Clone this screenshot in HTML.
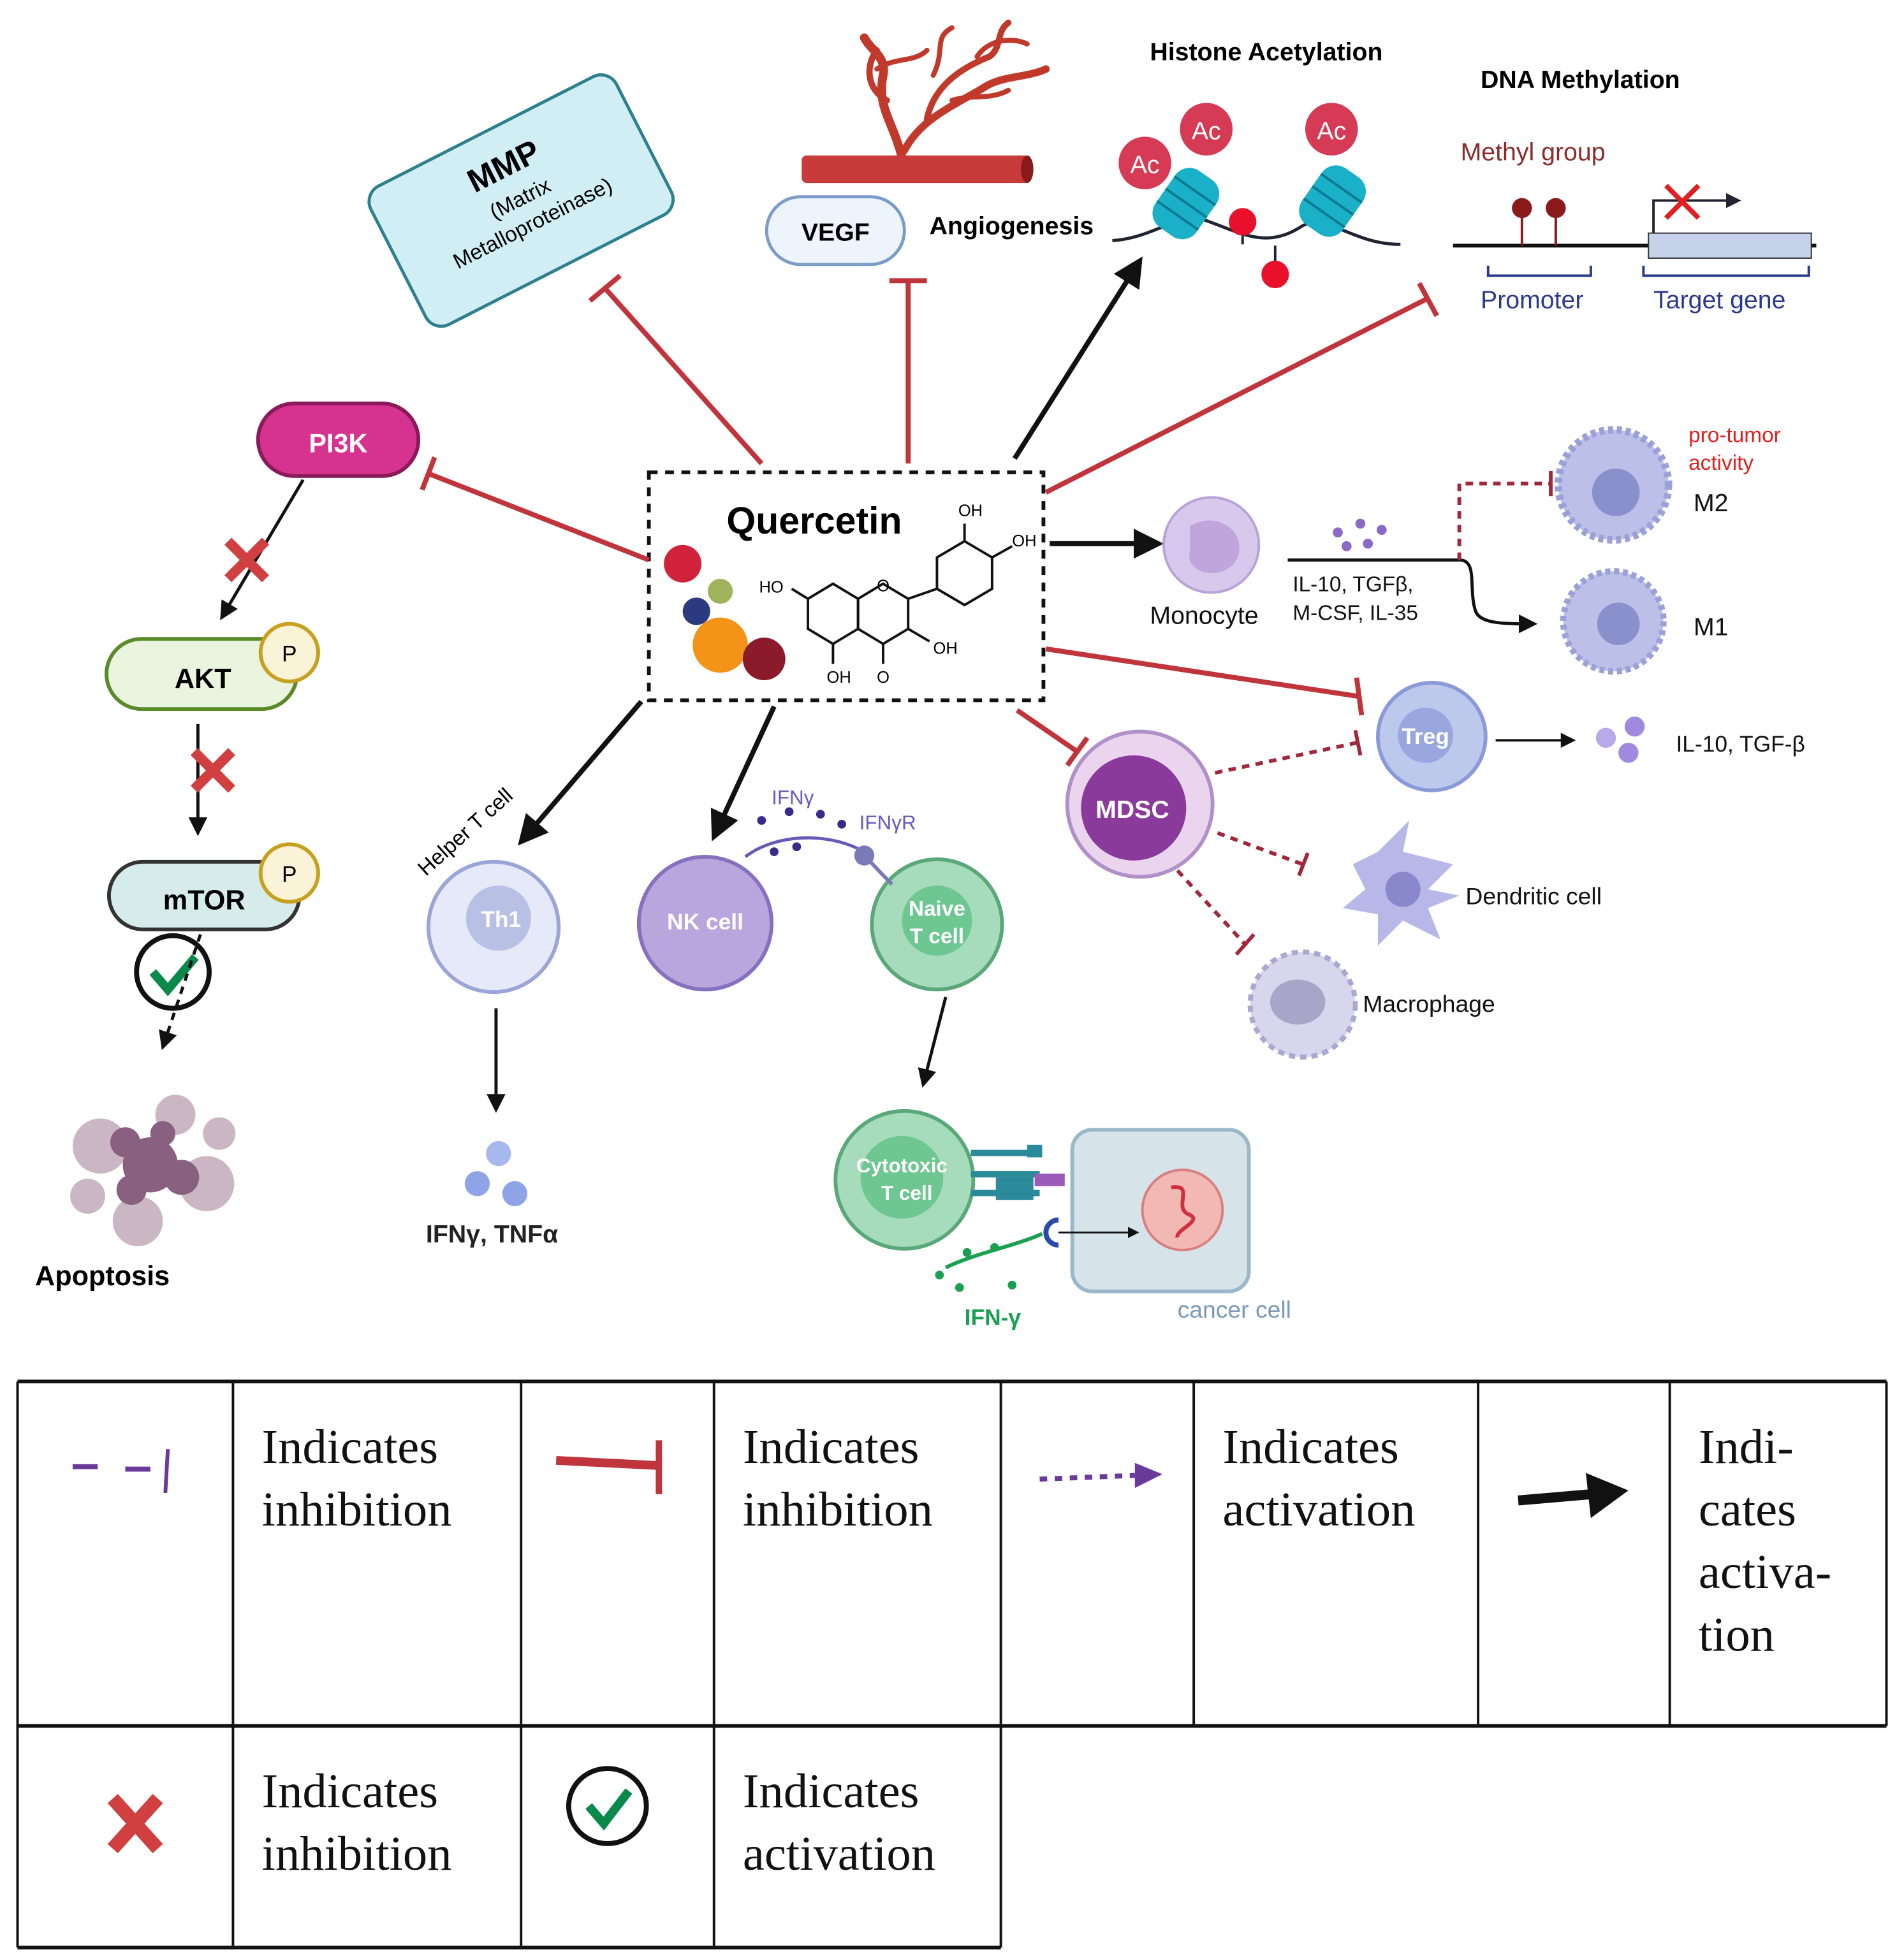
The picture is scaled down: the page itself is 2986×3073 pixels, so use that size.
<!DOCTYPE html>
<html><head><meta charset="utf-8"><style>
html,body{margin:0;padding:0;background:#fff}
svg{display:block}
.s{font-family:"Liberation Sans",sans-serif}
.r{font-family:"Liberation Serif",serif}
</style></head><body>
<svg width="2986" height="3073" viewBox="0 0 1520 1564" xmlns="http://www.w3.org/2000/svg">
<defs>
<marker id="ab" markerWidth="6" markerHeight="6" refX="5" refY="3" orient="auto" markerUnits="strokeWidth"><path d="M0,0 L6,3 L0,6 z" fill="#111"/></marker>
<marker id="as" markerWidth="6" markerHeight="6" refX="5" refY="3" orient="auto" markerUnits="strokeWidth"><path d="M0,0 L6,3 L0,6 z" fill="#111"/></marker>
</defs>
<rect width="1520" height="1564" fill="#fff"/>

<!-- MMP box -->
<g transform="translate(416,160) rotate(-27)">
<rect x="-110" y="-62" width="220" height="124" rx="14" fill="#d2eef5" stroke="#2e7f8f" stroke-width="2.5"/>
<text x="0" y="-22" class="s" font-size="26" font-weight="bold" text-anchor="middle">MMP</text>
<text x="0" y="4" class="s" font-size="17" text-anchor="middle">(Matrix</text>
<text x="0" y="26" class="s" font-size="17" text-anchor="middle">Metalloproteinase)</text>
</g>

<!-- Angiogenesis -->
<g stroke="#c0392b" fill="none" stroke-linecap="round">
<path d="M720,125 C712,95 700,85 705,60 C708,45 695,40 690,30" stroke-width="7"/>
<path d="M722,120 C735,95 760,85 785,70 C800,60 820,62 835,55" stroke-width="6"/>
<path d="M708,80 C690,70 692,50 700,40" stroke-width="5"/>
<path d="M740,95 C745,70 765,55 790,45 C800,38 795,25 805,18" stroke-width="5"/>
<path d="M760,80 C775,75 790,80 805,72 M700,55 C715,45 730,50 740,40 M780,45 C790,30 810,30 820,35 M745,60 C755,40 745,30 760,22" stroke-width="4"/>
</g>
<rect x="640" y="124" width="182" height="22" rx="4" fill="#c83b3b"/>
<ellipse cx="820" cy="135" rx="5" ry="11" fill="#8a1a1a"/>
<rect x="612" y="157" width="110" height="54" rx="27" fill="#eef4fb" stroke="#7a9cc8" stroke-width="2.5"/>
<text x="667" y="192" class="s" font-size="20" font-weight="bold" text-anchor="middle">VEGF</text>
<text x="742" y="187" class="s" font-size="20" font-weight="bold">Angiogenesis</text>

<!-- Histone -->
<text x="918" y="48" class="s" font-size="20" font-weight="bold">Histone Acetylation</text>
<path d="M888,192 C920,190 940,170 960,175 C990,185 1010,200 1040,180 C1060,170 1080,195 1118,195" stroke="#223" stroke-width="2.5" fill="none"/>
<g transform="rotate(35 947 162)"><rect x="927" y="135" width="40" height="55" rx="14" fill="#1ab0c8"/><line x1="927" y1="150" x2="967" y2="150" stroke="#0a7a90" stroke-width="2"/><line x1="927" y1="162" x2="967" y2="162" stroke="#0a7a90" stroke-width="2"/><line x1="927" y1="174" x2="967" y2="174" stroke="#0a7a90" stroke-width="2"/></g>
<g transform="rotate(35 1064 160)"><rect x="1044" y="133" width="40" height="55" rx="14" fill="#1ab0c8"/><line x1="1044" y1="148" x2="1084" y2="148" stroke="#0a7a90" stroke-width="2"/><line x1="1044" y1="160" x2="1084" y2="160" stroke="#0a7a90" stroke-width="2"/><line x1="1044" y1="172" x2="1084" y2="172" stroke="#0a7a90" stroke-width="2"/></g>
<circle cx="914" cy="130" r="21" fill="#d73a55"/><text x="914" y="138" class="s" font-size="20" fill="#fff" text-anchor="middle">Ac</text>
<circle cx="963" cy="103" r="21" fill="#d73a55"/><text x="963" y="111" class="s" font-size="20" fill="#fff" text-anchor="middle">Ac</text>
<circle cx="1063" cy="103" r="21" fill="#d73a55"/><text x="1063" y="111" class="s" font-size="20" fill="#fff" text-anchor="middle">Ac</text>
<line x1="992" y1="185" x2="992" y2="195" stroke="#223" stroke-width="2"/><circle cx="992" cy="177" r="11" fill="#e8102a"/>
<line x1="1018" y1="196" x2="1018" y2="210" stroke="#223" stroke-width="2"/><circle cx="1018" cy="219" r="11" fill="#e8102a"/>

<!-- DNA methylation -->
<text x="1182" y="70" class="s" font-size="20" font-weight="bold">DNA Methylation</text>
<text x="1166" y="128" class="s" font-size="20" fill="#8b2a2a">Methyl group</text>
<line x1="1160" y1="196" x2="1450" y2="196" stroke="#111" stroke-width="3"/>
<line x1="1215" y1="196" x2="1215" y2="170" stroke="#8b1a1a" stroke-width="2"/><circle cx="1215" cy="166" r="8" fill="#8b1a1a"/>
<line x1="1242" y1="196" x2="1242" y2="170" stroke="#8b1a1a" stroke-width="2"/><circle cx="1242" cy="166" r="8" fill="#8b1a1a"/>
<rect x="1316" y="186" width="130" height="20" fill="#c6d1ea" stroke="#333"/>
<path d="M1320,186 V160 H1378" stroke="#223" stroke-width="2" fill="none"/><path d="M1378,154 L1390,160 L1378,166z" fill="#223"/>
<path d="M1330,148 L1356,174 M1356,148 L1330,174" stroke="#e02020" stroke-width="4"/>
<path d="M1188,212 V220 H1270 V212 M1312,212 V220 H1444 V212" stroke="#2a3a8a" stroke-width="2" fill="none"/>
<text x="1182" y="246" class="s" font-size="20" fill="#2a3a8a">Promoter</text>
<text x="1320" y="246" class="s" font-size="20" fill="#2a3a8a">Target gene</text>

<!-- Quercetin box -->
<rect x="518" y="377" width="315" height="182" fill="#fff" stroke="#111" stroke-width="3" stroke-dasharray="7,6"/>
<text x="580" y="426" class="s" font-size="30" font-weight="bold">Quercetin</text>
<circle cx="545" cy="450" r="15" fill="#d0223a"/><circle cx="575" cy="472" r="10" fill="#9eb35a"/><circle cx="556" cy="488" r="11" fill="#2c3a80"/>
<circle cx="575" cy="515" r="22" fill="#f39419"/><circle cx="610" cy="526" r="17" fill="#8b1a2a"/>
<g stroke="#111" stroke-width="2" fill="none">
<polygon points="645,478 665,466 685,478 685,502 665,514 645,502"/>
<polygon points="685,478 705,466 725,478 725,502 705,514 685,502"/>
<polygon points="748,445 770,432 792,445 792,470 770,483 748,470"/>
<line x1="725" y1="478" x2="748" y2="470"/><line x1="705" y1="514" x2="705" y2="530"/><line x1="665" y1="514" x2="665" y2="530"/>
<line x1="645" y1="478" x2="632" y2="470"/><line x1="725" y1="502" x2="742" y2="512"/><line x1="770" y1="432" x2="770" y2="418"/><line x1="792" y1="445" x2="808" y2="436"/>
</g>
<g class="s" font-size="13"><text x="606" y="473">HO</text><text x="765" y="412">OH</text><text x="808" y="436">OH</text><text x="745" y="522">OH</text><text x="660" y="545">OH</text><text x="700" y="545">O</text><text x="700" y="472">O</text></g>

<!-- Inhibition lines from Quercetin (red) -->
<g stroke="#c0343b" stroke-width="4" fill="none">
<line x1="608" y1="370" x2="483" y2="230"/><line x1="471" y1="240" x2="495" y2="220"/>
<line x1="725" y1="370" x2="725" y2="224"/><line x1="710" y1="224" x2="740" y2="224"/>
<line x1="835" y1="393" x2="1140" y2="238"/><line x1="1133" y1="226" x2="1147" y2="252"/>
<line x1="518" y1="447" x2="342" y2="378"/><line x1="337" y1="391" x2="347" y2="365"/>
<line x1="835" y1="518" x2="1085" y2="556"/><line x1="1083" y1="541" x2="1087" y2="571"/>
<line x1="812" y1="567" x2="860" y2="600"/><line x1="852" y1="611" x2="868" y2="589"/>
</g>
<!-- Black activation arrows -->
<g stroke="#111" stroke-width="4" fill="none">
<line x1="810" y1="366" x2="910" y2="208" marker-end="url(#as)"/>
<line x1="838" y1="434" x2="925" y2="434" marker-end="url(#as)"/>
<line x1="512" y1="560" x2="416" y2="672" marker-end="url(#as)"/>
<line x1="618" y1="564" x2="570" y2="668" marker-end="url(#as)"/>
</g>

<!-- PI3K pathway -->
<rect x="206" y="322" width="128" height="58" rx="29" fill="#d5338f" stroke="#8a1a5a" stroke-width="3"/>
<text x="270" y="361" class="s" font-size="21" font-weight="bold" fill="#fff" text-anchor="middle">PI3K</text>
<line x1="242" y1="383" x2="177" y2="493" stroke="#111" stroke-width="2.5" marker-end="url(#ab)"/>
<path d="M182,432 L212,462 M212,432 L182,462" stroke="#d04040" stroke-width="8"/>
<rect x="85" y="510" width="152" height="56" rx="28" fill="#eaf5df" stroke="#5a8a2a" stroke-width="3"/>
<text x="162" y="549" class="s" font-size="22" font-weight="bold" text-anchor="middle">AKT</text>
<circle cx="231" cy="521" r="23" fill="#fbf3d8" stroke="#c8a020" stroke-width="3"/><text x="231" y="528" class="s" font-size="18" text-anchor="middle">P</text>
<line x1="158" y1="578" x2="158" y2="665" stroke="#111" stroke-width="2.5" marker-end="url(#ab)"/>
<path d="M155,600 L185,630 M185,600 L155,630" stroke="#d04040" stroke-width="8"/>
<rect x="87" y="688" width="152" height="54" rx="27" fill="#d6ecea" stroke="#333" stroke-width="3"/>
<text x="163" y="726" class="s" font-size="22" font-weight="bold" text-anchor="middle">mTOR</text>
<circle cx="231" cy="697" r="23" fill="#fbf3d8" stroke="#c8a020" stroke-width="3"/><text x="231" y="704" class="s" font-size="18" text-anchor="middle">P</text>
<circle cx="138" cy="776" r="29" fill="#fff" stroke="#111" stroke-width="4"/>
<path d="M122,776 L134,790 L156,764" stroke="#0a8a4a" stroke-width="7" fill="none"/>
<line x1="160" y1="746" x2="130" y2="836" stroke="#111" stroke-width="2.5" stroke-dasharray="6,5" marker-end="url(#ab)"/>
<g fill="#cbb7c4"><circle cx="80" cy="915" r="22"/><circle cx="165" cy="945" r="22"/><circle cx="110" cy="975" r="20"/><circle cx="140" cy="890" r="16"/><circle cx="70" cy="955" r="14"/><circle cx="175" cy="905" r="13"/></g>
<g fill="#8a6080"><circle cx="120" cy="930" r="22"/><circle cx="100" cy="912" r="12"/><circle cx="145" cy="940" r="14"/><circle cx="105" cy="950" r="12"/><circle cx="130" cy="905" r="10"/></g>
<text x="28" y="1026" class="s" font-size="22" font-weight="bold">Apoptosis</text>

<!-- Th1 -->
<text x="340" y="700" class="s" font-size="17" transform="rotate(-42 340 700)">Helper T cell</text>
<circle cx="394" cy="740" r="52" fill="#e6e9f8" stroke="#9aa5d8" stroke-width="3"/>
<circle cx="398" cy="733" r="26" fill="#b9c0e6"/>
<text x="400" y="740" class="s" font-size="18" font-weight="bold" fill="#fff" text-anchor="middle">Th1</text>
<line x1="396" y1="805" x2="396" y2="886" stroke="#111" stroke-width="2.5" marker-end="url(#ab)"/>
<circle cx="398" cy="921" r="10" fill="#a7b8ec"/><circle cx="381" cy="945" r="10" fill="#8fa4e6"/><circle cx="411" cy="953" r="10" fill="#8fa4e6"/>
<text x="340" y="992" class="s" font-size="20" font-weight="bold" fill="#222">IFNγ, TNFα</text>

<!-- NK, Naive -->
<circle cx="563" cy="737" r="53" fill="#b8a6dc" stroke="#8670c0" stroke-width="3"/>
<text x="563" y="742" class="s" font-size="18" font-weight="bold" fill="#fff" text-anchor="middle">NK cell</text>
<text x="616" y="642" class="s" font-size="16" fill="#6a5ab8">IFNγ</text>
<text x="686" y="662" class="s" font-size="16" fill="#6a5ab8">IFNγR</text>
<path d="M595,684 C620,665 660,665 686,678" stroke="#6a5ab8" stroke-width="2.5" fill="none"/>
<g fill="#3a2a8a"><circle cx="608" cy="655" r="3.5"/><circle cx="630" cy="648" r="3.5"/><circle cx="655" cy="650" r="3.5"/><circle cx="672" cy="658" r="3.5"/><circle cx="618" cy="680" r="3.5"/><circle cx="636" cy="676" r="3.5"/></g>
<circle cx="748" cy="738" r="52" fill="#a6dcbc" stroke="#5aa87a" stroke-width="3"/>
<circle cx="748" cy="735" r="28" fill="#6ec690"/>
<text x="748" y="731" class="s" font-size="17" font-weight="bold" fill="#fff" text-anchor="middle">Naive</text>
<text x="748" y="753" class="s" font-size="17" font-weight="bold" fill="#fff" text-anchor="middle">T cell</text>
<line x1="690" y1="683" x2="712" y2="706" stroke="#7a7ab8" stroke-width="3"/>
<circle cx="690" cy="683" r="8" fill="#7a7ab8"/>
<line x1="755" y1="796" x2="737" y2="866" stroke="#111" stroke-width="2.5" marker-end="url(#ab)"/>

<!-- Cytotoxic & cancer -->
<circle cx="722" cy="942" r="55" fill="#a6dcbc" stroke="#5aa87a" stroke-width="3"/>
<circle cx="720" cy="940" r="33" fill="#6ec690"/>
<text x="720" y="936" class="s" font-size="16" font-weight="bold" fill="#fff" text-anchor="middle">Cytotoxic</text>
<text x="724" y="958" class="s" font-size="16" font-weight="bold" fill="#fff" text-anchor="middle">T cell</text>
<g fill="#2a8a9a"><rect x="775" y="918" width="55" height="5"/><rect x="775" y="935" width="55" height="5"/><rect x="775" y="950" width="55" height="5"/><rect x="820" y="914" width="12" height="10"/><rect x="795" y="940" width="30" height="18"/></g>
<rect x="826" y="937" width="24" height="10" fill="#9a5ab8"/>
<rect x="856" y="902" width="141" height="129" rx="16" fill="#d6e4ea" stroke="#9ab8c8" stroke-width="3"/>
<circle cx="944" cy="966" r="32" fill="#f2b8b4" stroke="#d88080" stroke-width="2"/>
<path d="M935,948 C955,945 935,965 950,970 C960,975 938,982 940,988" stroke="#d03040" stroke-width="3" fill="none"/>
<line x1="845" y1="984" x2="908" y2="984" stroke="#111" stroke-width="1.5" marker-end="url(#ab)"/>
<path d="M845,974 A9,9 0 0 0 845,994" stroke="#2a4aa8" stroke-width="4" fill="none"/>
<path d="M755,1012 C780,1000 810,995 832,985" stroke="#1aa050" stroke-width="3" fill="none"/>
<g fill="#1aa050"><circle cx="750" cy="1018" r="3.5"/><circle cx="772" cy="1000" r="3.5"/><circle cx="794" cy="996" r="3.5"/><circle cx="808" cy="1026" r="3.5"/><circle cx="766" cy="1028" r="3.5"/></g>
<text x="770" y="1058" class="s" font-size="18" font-weight="bold" fill="#1aa050">IFN-γ</text>
<text x="940" y="1052" class="s" font-size="19" fill="#7a9ab8">cancer cell</text>

<!-- Monocyte/macrophage polarization -->
<circle cx="967" cy="435" r="38" fill="#d8c8ec" stroke="#b8a2d8" stroke-width="2"/>
<path d="M950,420 C975,405 1000,430 985,450 C970,465 945,455 950,440 Z" fill="#c0a4dc"/>
<text x="918" y="498" class="s" font-size="20" fill="#111">Monocyte</text>
<g fill="#8a6ac8"><circle cx="1068" cy="425" r="4"/><circle cx="1086" cy="418" r="4"/><circle cx="1103" cy="423" r="4"/><circle cx="1075" cy="436" r="4"/><circle cx="1092" cy="434" r="4"/></g>
<line x1="1028" y1="447" x2="1165" y2="447" stroke="#111" stroke-width="2.5"/>
<path d="M1165,447 C1180,447 1172,470 1178,488 C1182,498 1200,498 1225,498" stroke="#111" stroke-width="2.5" fill="none" marker-end="url(#ab)"/>
<path d="M1165,447 V386 H1238" stroke="#a0283a" stroke-width="3" stroke-dasharray="6,5" fill="none"/>
<line x1="1238" y1="376" x2="1238" y2="396" stroke="#a0283a" stroke-width="3"/>
<text x="1032" y="472" class="s" font-size="17" fill="#111">IL-10, TGFβ,</text>
<text x="1032" y="495" class="s" font-size="17" fill="#111">M-CSF, IL-35</text>
<circle cx="1288" cy="387" r="44" fill="#bcc0e8" stroke="#9aa0d8" stroke-width="6" stroke-dasharray="4,3"/>
<circle cx="1290" cy="393" r="19" fill="#8a90cc"/>
<text x="1348" y="353" class="s" font-size="17" fill="#e02020">pro-tumor</text>
<text x="1348" y="375" class="s" font-size="17" fill="#e02020">activity</text>
<text x="1352" y="408" class="s" font-size="20" fill="#111">M2</text>
<circle cx="1288" cy="496" r="40" fill="#bcc0e8" stroke="#9aa0d8" stroke-width="5" stroke-dasharray="4,3"/>
<circle cx="1292" cy="498" r="17" fill="#8a90cc"/>
<text x="1352" y="507" class="s" font-size="20" fill="#111">M1</text>

<!-- Treg, MDSC -->
<circle cx="1143" cy="588" r="43" fill="#bcc8ec" stroke="#8a9ad8" stroke-width="3"/>
<circle cx="1138" cy="587" r="22" fill="#9aa6de"/>
<text x="1138" y="594" class="s" font-size="18" font-weight="bold" fill="#fff" text-anchor="middle">Treg</text>
<line x1="1194" y1="591" x2="1256" y2="591" stroke="#111" stroke-width="2" marker-end="url(#ab)"/>
<circle cx="1282" cy="589" r="8" fill="#b8aae8"/><circle cx="1305" cy="580" r="8" fill="#a08ade"/><circle cx="1300" cy="601" r="8" fill="#a08ade"/>
<text x="1338" y="600" class="s" font-size="18" fill="#111">IL-10, TGF-β</text>
<circle cx="910" cy="642" r="58" fill="#ead4ee" stroke="#b090c8" stroke-width="3"/>
<circle cx="905" cy="645" r="42" fill="#8a3a9a"/>
<text x="904" y="653" class="s" font-size="20" font-weight="bold" fill="#fff" text-anchor="middle">MDSC</text>
<g stroke="#a0283a" stroke-width="3" fill="none" stroke-dasharray="6,5">
<line x1="970" y1="617" x2="1083" y2="593"/>
<line x1="972" y1="665" x2="1040" y2="690"/>
<line x1="940" y1="695" x2="995" y2="755"/>
</g>
<g stroke="#a0283a" stroke-width="3"><line x1="1082" y1="583" x2="1086" y2="603"/><line x1="1044" y1="681" x2="1037" y2="699"/><line x1="1001" y1="746" x2="987" y2="762"/></g>
<path d="M1080,690 L1100,680 L1125,655 L1120,680 L1160,690 L1140,710 L1165,715 L1140,725 L1150,750 L1120,735 L1100,755 L1100,730 L1072,725 L1090,710 Z" fill="#b8b8e8"/>
<circle cx="1120" cy="710" r="14" fill="#8a88cc"/>
<text x="1170" y="722" class="s" font-size="19" fill="#111">Dendritic cell</text>
<circle cx="1040" cy="802" r="42" fill="#d8d6ec" stroke="#aaa8d0" stroke-width="4" stroke-dasharray="5,4"/>
<ellipse cx="1036" cy="800" rx="22" ry="18" fill="#a8a6c8"/>
<text x="1088" y="808" class="s" font-size="19" fill="#111">Macrophage</text>

<!-- Legend table -->
<g stroke="#111" fill="none">
<line x1="14" y1="1103" x2="1506" y2="1103" stroke-width="3"/>
<line x1="14" y1="1378" x2="1506" y2="1378" stroke-width="3"/>
<line x1="14" y1="1555" x2="799" y2="1555" stroke-width="3"/>
<g stroke-width="2">
<line x1="14" y1="1103" x2="14" y2="1555"/><line x1="186" y1="1103" x2="186" y2="1555"/><line x1="416" y1="1103" x2="416" y2="1555"/><line x1="570" y1="1103" x2="570" y2="1555"/><line x1="799" y1="1103" x2="799" y2="1555"/>
<line x1="953" y1="1103" x2="953" y2="1378"/><line x1="1180" y1="1103" x2="1180" y2="1378"/><line x1="1333" y1="1103" x2="1333" y2="1378"/><line x1="1506" y1="1103" x2="1506" y2="1378"/>
</g>
</g>
<g class="r" font-size="39" fill="#111">
<text x="209" y="1168">Indicates</text><text x="209" y="1218">inhibition</text>
<text x="593" y="1168">Indicates</text><text x="593" y="1218">inhibition</text>
<text x="976" y="1168">Indicates</text><text x="976" y="1218">activation</text>
<text x="1356" y="1168">Indi-</text><text x="1356" y="1218">cates</text><text x="1356" y="1268">activa-</text><text x="1356" y="1318">tion</text>
<text x="209" y="1443">Indicates</text><text x="209" y="1493">inhibition</text>
<text x="593" y="1443">Indicates</text><text x="593" y="1493">activation</text>
</g>
<g stroke="#6a3a9a" stroke-width="4"><line x1="58" y1="1171" x2="78" y2="1171"/><line x1="100" y1="1173" x2="120" y2="1173"/><line x1="134" y1="1157" x2="132" y2="1192" stroke-width="3"/></g>
<line x1="444" y1="1166" x2="524" y2="1170" stroke="#c0343b" stroke-width="7"/><line x1="526" y1="1150" x2="526" y2="1193" stroke="#c0343b" stroke-width="5"/>
<line x1="830" y1="1181" x2="906" y2="1178" stroke="#6a3a9a" stroke-width="4" stroke-dasharray="6,6"/><path d="M906,1168 L928,1177 L906,1188z" fill="#6a3a9a"/>
<line x1="1212" y1="1198" x2="1270" y2="1193" stroke="#111" stroke-width="8"/><path d="M1266,1176 L1300,1190 L1270,1212z" fill="#111"/>
<path d="M90,1436 L126,1476 M126,1436 L90,1476" stroke="#d04040" stroke-width="11"/>
<ellipse cx="485" cy="1442" rx="31" ry="30" fill="#fff" stroke="#111" stroke-width="4"/>
<path d="M470,1442 L482,1456 L502,1430" stroke="#0a8a4a" stroke-width="7" fill="none"/>
</svg>
</body></html>
